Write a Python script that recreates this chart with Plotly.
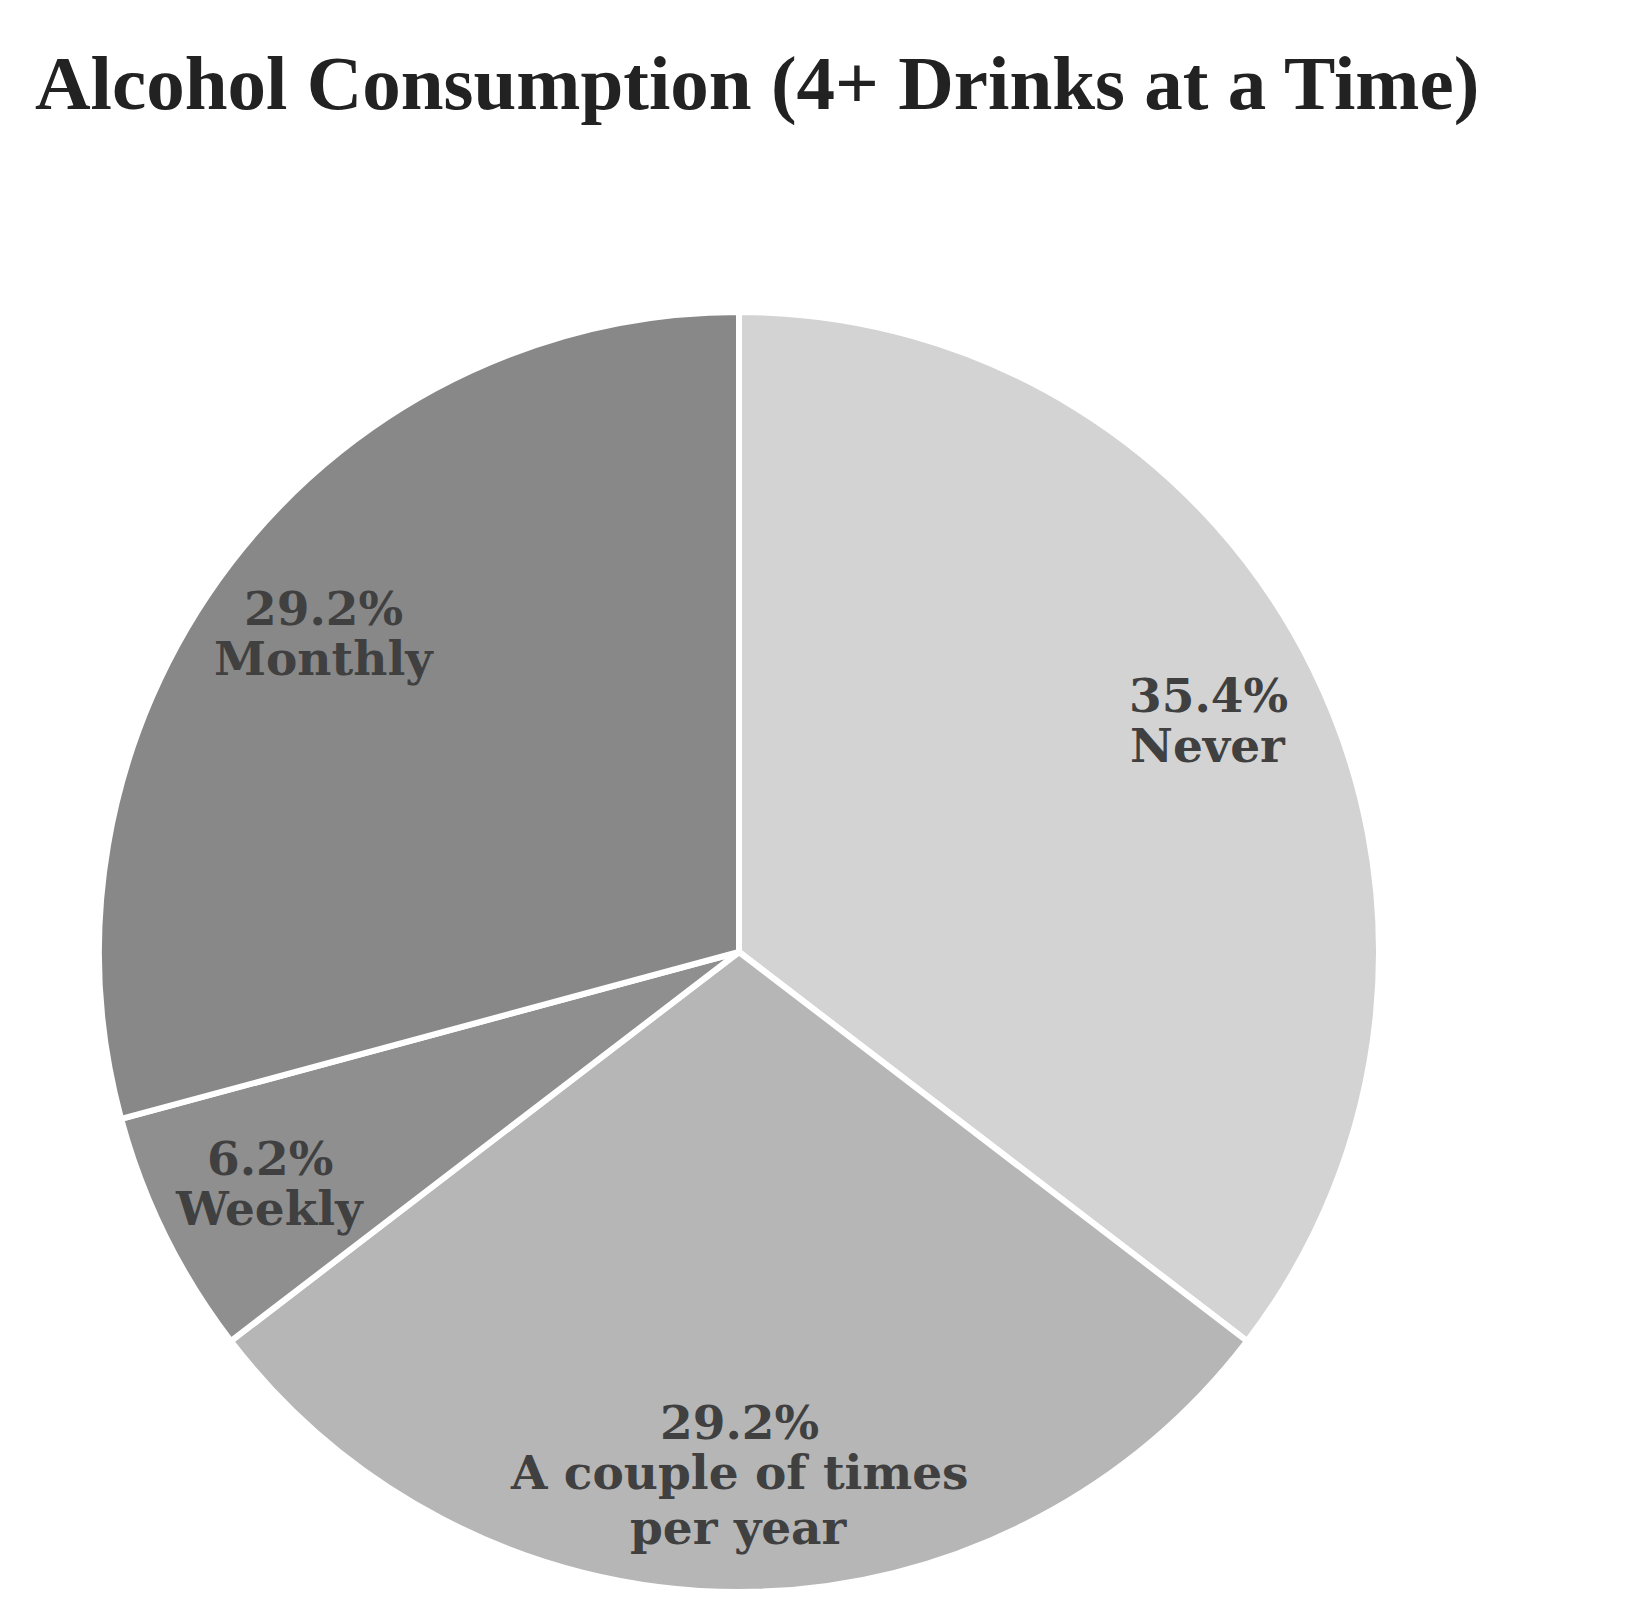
import math
import plotly.graph_objects as go

categories = ["Never", "A couple of times per year", "Weekly", "Monthly"]
label_lines = [["Never"], ["A couple of times", "per year"], ["Weekly"], ["Monthly"]]
values = [35.4, 29.2, 6.2, 29.2]
colors = ["#d3d3d3", "#b6b6b6", "#8f8f8f", "#888888"]

W, H = 1627, 1617
# pie area in pixels (page coords minus body margin)
x0, x1 = 89, 1373
y0, y1 = 304, 1584
cx_px, cy_px = (x0 + x1) / 2, (y0 + y1) / 2
R = (x1 - x0) / 2

fig = go.Figure(go.Pie(
    labels=categories,
    values=values,
    sort=False,
    direction="clockwise",
    rotation=0,
    marker=dict(colors=colors, line=dict(color="white", width=6)),
    textinfo="none",
    hoverinfo="label+percent",
    domain=dict(x=[x0 / W, x1 / W], y=[1 - y1 / H, 1 - y0 / H]),
    showlegend=False,
))

LABEL_FONT = dict(family="DejaVu Serif", size=47, color="#404040", weight="bold")
pct_gap = 50   # percent line to first name line
line_h = 55    # between name lines
total = sum(values)
cum = 0.0
annotations = []
for v, lines in zip(values, label_lines):
    mid = (cum + v / 2) / total * 2 * math.pi
    cum += v
    r = 0.815 * R
    px = cx_px + r * math.sin(mid)
    py = cy_px - r * math.cos(mid)
    offs = [0.0, pct_gap] + [pct_gap + line_h * (k + 1) for k in range(len(lines) - 1)]
    centre = (offs[0] + offs[-1]) / 2
    texts = [f"{v:.1f}%"] + lines
    for t, o in zip(texts, offs):
        annotations.append(dict(
            x=px / W, y=1 - py / H, xref="paper", yref="paper",
            text=t, showarrow=False, xanchor="center", yanchor="middle",
            yshift=-(o - centre), font=LABEL_FONT,
        ))

annotations.append(dict(
    x=25 / W, y=1 - 75 / H, xref="paper", yref="paper",
    text="Alcohol Consumption (4+ Drinks at a Time)", showarrow=False,
    xanchor="left", yanchor="middle",
    font=dict(family="Liberation Serif", size=77, color="#222222", weight="bold"),
))

fig.update_layout(
    width=W, height=H,
    margin=dict(l=0, r=0, t=0, b=0),
    paper_bgcolor="white", plot_bgcolor="white",
    annotations=annotations,
)

fig.write_html("out.html")
